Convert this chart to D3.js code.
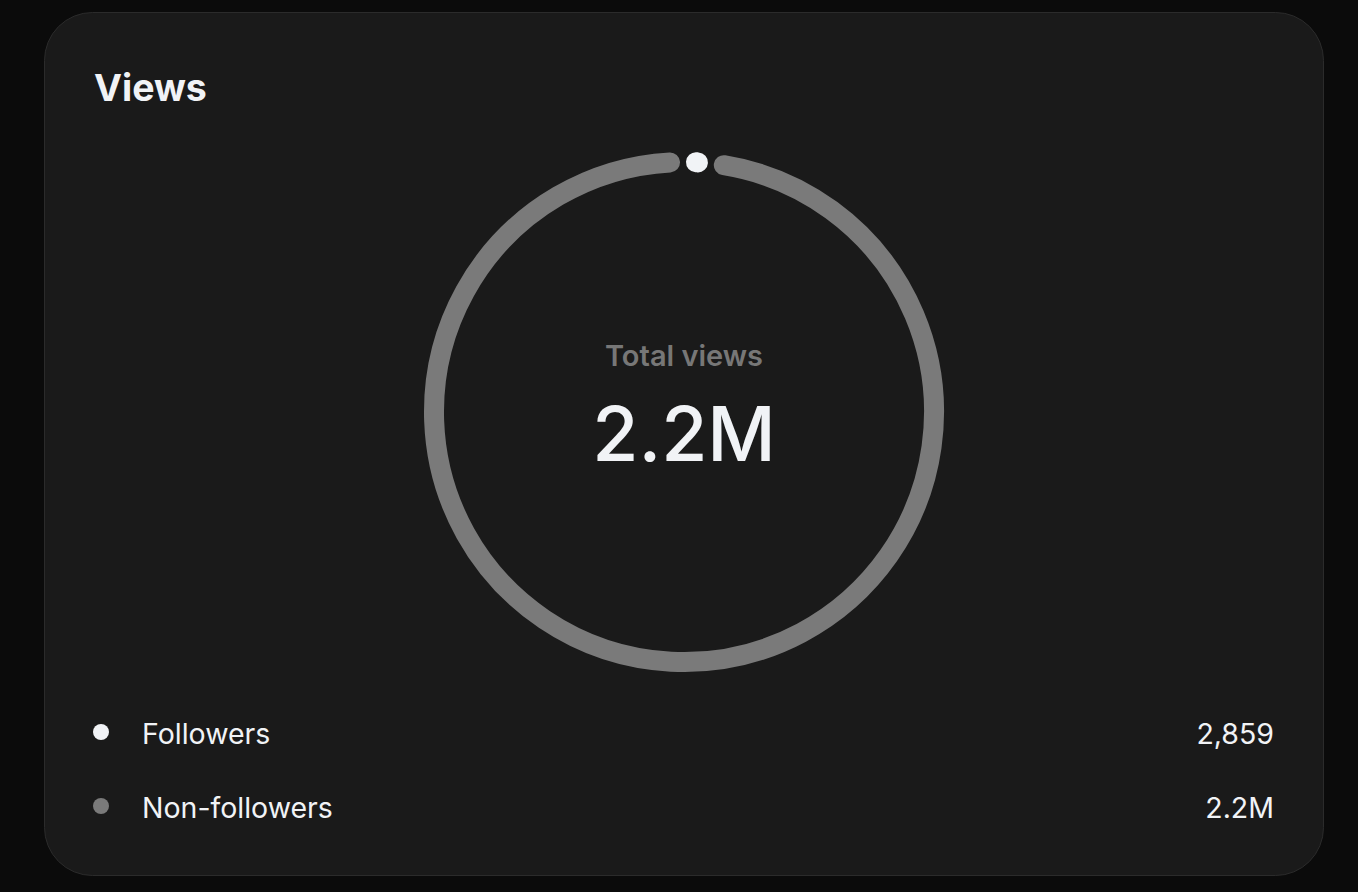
<!DOCTYPE html>
<html><head><meta charset="utf-8">
<script src="https://cdn.jsdelivr.net/npm/d3@7"></script>
<style>
html,body{margin:0;padding:0;background:#0b0b0b;}
svg{display:block;font-family:Inter,"Noto Sans",sans-serif;}
</style></head>
<body><svg id="c" width="1358" height="892"></svg>
<script>
const title = "Views";
const centerLabel = "Total views";
const centerValue = "2.2M";
const categories = ["Followers", "Non-followers"];
const values = [2859, 2200000];
const valueLabels = ["2,859", "2.2M"];
const colors = ["#f1f3f6", "#7a7a7a"];

const svg = d3.select("#c");
svg.append("rect").attr("x",44.5).attr("y",12.5).attr("width",1279).attr("height",863)
  .attr("rx",48).attr("fill","#1a1a1a").attr("stroke","#2b2b2b").attr("stroke-width",1);

svg.append("text").attr("x",94).attr("y",101).attr("fill","#f1f3f6")
  .attr("font-size",37.5).attr("font-weight",700).text(title);

const cx = 684, cy = 412, r = 250;
const pad = 0.104;
const pie = d3.pie().sort(null).startAngle(-0.004).endAngle(-0.004 + 2*Math.PI).padAngle(pad);
const arcs = pie(values);
const g = svg.append("g").attr("transform",`translate(${cx},${cy})`);
g.selectAll("path").data(arcs).join("path")
  .attr("d", d => {
    const p = d3.path();
    const a0 = d.startAngle + d.padAngle/2 - Math.PI/2;
    const a1 = d.endAngle - d.padAngle/2 - Math.PI/2;
    p.moveTo(r*Math.cos(a0), r*Math.sin(a0));
    p.arc(0,0,r,a0,a1);
    return p.toString();
  })
  .attr("fill","none").attr("stroke",(d,i)=>colors[i]).attr("stroke-width",20)
  .attr("stroke-linecap","round");

g.append("text").attr("x",0).attr("y",-46).attr("text-anchor","middle").attr("fill","#777")
  .attr("font-size",29).attr("font-weight",600).text(centerLabel);
g.append("text").attr("x",0).attr("y",49).attr("text-anchor","middle").attr("fill","#f1f3f6")
  .attr("font-size",75).attr("font-weight",500).text(centerValue);

const ly = d3.scalePoint().domain(categories).range([744, 818]);
const leg = svg.append("g").selectAll("g").data(categories).join("g");
leg.append("circle").attr("cx",101).attr("cy",d=>ly(d)-12).attr("r",8).attr("fill",(d,i)=>colors[i]);
leg.append("text").attr("x",142).attr("y",d=>ly(d)).attr("fill","#f1f3f6").attr("font-size",28.5).text(d=>d);
leg.append("text").attr("x",1274).attr("y",d=>ly(d)).attr("text-anchor","end").attr("fill","#f1f3f6").attr("font-size",28.5).text((d,i)=>valueLabels[i]);
</script></body></html>
